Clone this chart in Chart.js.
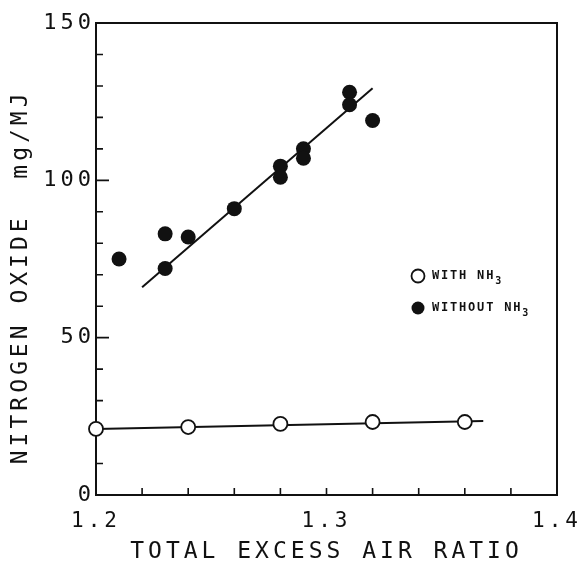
<!DOCTYPE html>
<html>
<head>
<meta charset="utf-8">
<script src="https://cdn.jsdelivr.net/npm/chart.js@4.4.0/dist/chart.umd.min.js"></script>
<style>
  html, body { margin: 0; padding: 0; background: #fff; }
  #wrap { width: 584px; height: 574px; }
</style>
</head>
<body>
<div id="wrap"><canvas id="myChart" width="584" height="574"></canvas></div>
<script>
// measured points
const withoutX = [1.21, 1.23, 1.23, 1.24, 1.26, 1.28, 1.28, 1.29, 1.29, 1.31, 1.31, 1.32];
const withoutY = [75, 83, 72, 82, 91, 104.5, 101, 110, 107, 128, 124, 119];
const withX = [1.20, 1.24, 1.28, 1.32, 1.36];
const withY = [21, 21.6, 22.6, 23.2, 23.2];
// hand-drawn fit lines
const fitWithoutX = [1.22, 1.32];
const fitWithoutY = [66, 129.3];
const fitWithX = [1.20, 1.368];
const fitWithY = [21, 23.5];
// axis ticks
const xTicks = [1.2, 1.3, 1.4];
const yTicks = [0, 50, 100, 150];

function pts(xs, ys) {
    return xs.map((x, i) => ({x: x, y: ys[i]}));
}

const FONT = "'DejaVu Sans Mono', monospace";

const framePlugin = {
    id: 'frame',
    beforeLayout(chart) { chart.ctx.letterSpacing = '4px'; },
    beforeDraw(chart) { chart.ctx.letterSpacing = '4px'; },
    beforeDatasetsDraw(chart) {
        const ctx = chart.ctx;
        const a = chart.chartArea;
        const xs = chart.scales.x, ys = chart.scales.y;
        ctx.save();
        ctx.strokeStyle = '#111';
        ctx.lineWidth = 2;
        ctx.strokeRect(a.left, a.top, a.right - a.left, a.bottom - a.top);
        // inward tick marks
        ctx.lineWidth = 1.6;
        ctx.beginPath();
        for (let v = 10; v < 150; v += 10) {
            const y = ys.getPixelForValue(v);
            const len = (v % 50 === 0) ? 13 : 7;
            ctx.moveTo(a.left, y);
            ctx.lineTo(a.left + len, y);
        }
        for (let i = 1; i < 10; i++) {
            const x = xs.getPixelForValue(1.2 + i * 0.02);
            ctx.moveTo(x, a.bottom);
            ctx.lineTo(x, a.bottom - 7);
        }
        ctx.stroke();
        ctx.restore();
    },
    afterDraw(chart) {
        const ctx = chart.ctx;
        ctx.save();
        ctx.letterSpacing = '1.8px';
        ctx.fillStyle = '#111';
        ctx.strokeStyle = '#111';
        ctx.textBaseline = 'middle';
        const rows = [{y: 276, filled: false, text: 'WITH NH'}, {y: 308, filled: true, text: 'WITHOUT NH'}];
        rows.forEach(r => {
            ctx.beginPath();
            ctx.arc(418, r.y, 6.5, 0, Math.PI * 2);
            if (r.filled) {
                ctx.fill();
            } else {
                ctx.fillStyle = '#fff';
                ctx.fill();
                ctx.fillStyle = '#111';
                ctx.lineWidth = 1.8;
                ctx.stroke();
            }
            ctx.font = "bold 12px " + FONT;
            ctx.fillText(r.text, 432, r.y);
            const w = ctx.measureText(r.text).width;
            ctx.font = "bold 10px " + FONT;
            ctx.fillText('3', 432 + w, r.y + 5);
        });
        ctx.restore();
    }
};

const ctx = document.getElementById('myChart').getContext('2d');
const myChart = new Chart(ctx, {
    type: 'scatter',
    data: {
        datasets: [
            {
                label: 'WITHOUT NH3',
                data: pts(withoutX, withoutY),
                backgroundColor: '#111',
                borderColor: '#111',
                pointRadius: 7.5,
                pointBorderWidth: 0,
                clip: false,
                order: 1
            },
            {
                label: 'WITH NH3',
                data: pts(withX, withY),
                backgroundColor: '#fff',
                borderColor: '#111',
                pointRadius: 7,
                pointBorderWidth: 1.8,
                clip: false,
                order: 1
            },
            {
                label: 'fit without',
                data: pts(fitWithoutX, fitWithoutY),
                showLine: true,
                borderColor: '#111',
                borderWidth: 2,
                pointRadius: 0,
                order: 2
            },
            {
                label: 'fit with',
                data: pts(fitWithX, fitWithY),
                showLine: true,
                borderColor: '#111',
                borderWidth: 2,
                pointRadius: 0,
                clip: false,
                order: 2
            }
        ]
    },
    options: {
        responsive: false,
        animation: false,
        layout: {padding: {top: 23, right: 27, left: 0, bottom: 0}},
        plugins: {
            legend: {display: false},
            tooltip: {enabled: false}
        },
        scales: {
            x: {
                type: 'linear',
                min: 1.2,
                max: 1.4,
                afterBuildTicks: (scale) => { scale.ticks = xTicks.map(v => ({value: v})); },
                afterFit: (scale) => {
                    scale.height = 79;
                    scale.paddingLeft = 0;
                    scale.paddingRight = 0;
                },
                grid: {display: false, drawTicks: false},
                border: {display: false},
                ticks: {
                    color: '#111',
                    padding: 14,
                    maxRotation: 0,
                    font: {family: FONT, size: 21},
                    callback: v => v.toFixed(1)
                },
                title: {
                    display: true,
                    text: 'TOTAL EXCESS AIR RATIO',
                    color: '#111',
                    padding: {top: 0, bottom: 8},
                    font: {family: FONT, size: 23, lineHeight: 1.2}
                }
            },
            y: {
                type: 'linear',
                min: 0,
                max: 150,
                afterBuildTicks: (scale) => { scale.ticks = yTicks.map(v => ({value: v})); },
                afterFit: (scale) => {
                    scale.width = 96;
                    scale.paddingTop = 0;
                    scale.paddingBottom = 0;
                },
                grid: {display: false, drawTicks: false},
                border: {display: false},
                ticks: {
                    color: '#111',
                    padding: 1,
                    font: {family: FONT, size: 22}
                },
                title: {
                    display: true,
                    text: 'NITROGEN OXIDE  mg/MJ  ',
                    color: '#111',
                    padding: {top: 7, bottom: 0},
                    font: {family: FONT, size: 23, lineHeight: 1.2}
                }
            }
        }
    },
    plugins: [framePlugin]
});
</script>
</body>
</html>
